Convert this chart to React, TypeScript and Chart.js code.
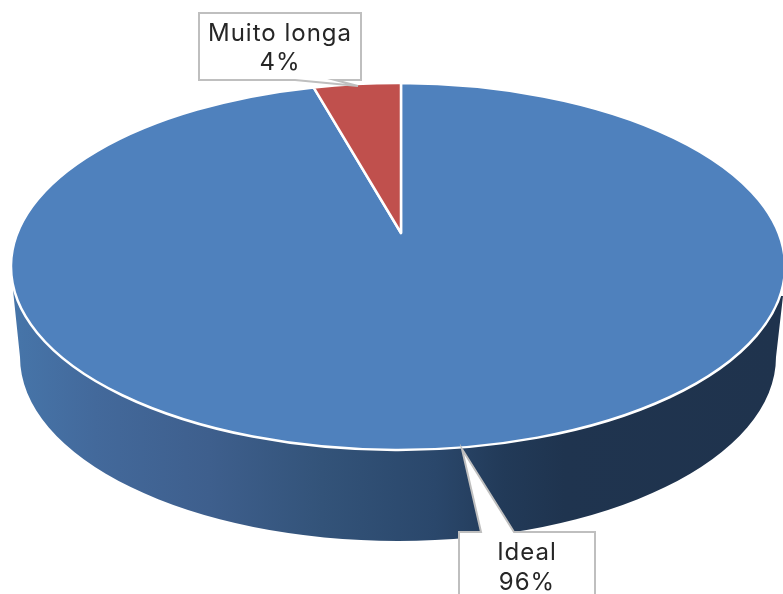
import React, { useEffect, useRef } from "react";
import { Chart, registerables } from "chart.js";

Chart.register(...registerables);

const categories = ["Ideal", "Muito longa"];
const values = [96, 4];
const sliceColors = ["#4f81bd", "#c0504d"];

const TOP = { cx: 398, cy: 266.5, a: 387, b: 183.5 };
const BOTTOM = { cx: 398, cy: 357, a: 378, b: 184 };
const APEX = { x: 401, y: 233 };
const RIM_TILT = -0.1;
const RIM_TURN = 0.0077;

const wallStops: [number, string][] = [
  [0, "#4674a8"],
  [0.1, "#43699b"],
  [0.25, "#3e5f8d"],
  [0.4, "#335379"],
  [0.55, "#2a476b"],
  [0.64, "#223a58"],
  [0.72, "#1f344f"],
  [1, "#1f334d"],
];

const callouts = [
  {
    index: 1,
    center: 280,
    lines: [41, 70],
    outline: [[199, 13], [361, 13], [361, 80], [335, 80], [358, 86], [295, 80], [199, 80]],
  },
  {
    index: 0,
    center: 527,
    lines: [560, 590],
    outline: [[459, 532], [481, 532], [462, 449], [514, 532], [595, 532], [595, 600], [459, 600]],
  },
];

// Chart.js angle (0 = top of the pie once shifted) to the angle on the tilted rim
function rimAngle(chartAngle: number) {
  const t = chartAngle + Math.PI / 2;
  const X = Math.sin(t);
  const Y = -Math.cos(t);
  const d = 1 + RIM_TILT * Y;
  const x = (X * Math.sqrt(1 - RIM_TILT * RIM_TILT)) / d;
  const y = (Y + RIM_TILT) / d;
  return Math.atan2(x, -y) + RIM_TURN;
}

const pie3d = {
  id: "pie3d",
  beforeDatasetsDraw(chart: any) {
    const ctx: CanvasRenderingContext2D = chart.ctx;
    ctx.save();

    const grad = ctx.createLinearGradient(BOTTOM.cx - BOTTOM.a, 0, BOTTOM.cx + BOTTOM.a, 0);
    wallStops.forEach(([p, c]) => grad.addColorStop(p, c));
    ctx.beginPath();
    ctx.ellipse(BOTTOM.cx, BOTTOM.cy, BOTTOM.a, BOTTOM.b, 0, 0, Math.PI);
    ctx.lineTo(13, 290);
    ctx.lineTo(783, 296);
    ctx.closePath();
    ctx.fillStyle = grad;
    ctx.fill();

    const arcs = chart.getDatasetMeta(0).data;
    arcs.forEach((arc: any, i: number) => {
      const start = rimAngle(arc.startAngle) - Math.PI / 2;
      let end = rimAngle(arc.endAngle) - Math.PI / 2;
      if (end <= start) end += Math.PI * 2;
      ctx.beginPath();
      ctx.moveTo(APEX.x, APEX.y);
      ctx.ellipse(TOP.cx, TOP.cy, TOP.a, TOP.b, 0, start, end);
      ctx.closePath();
      ctx.fillStyle = sliceColors[i];
      ctx.fill();
      ctx.strokeStyle = "#ffffff";
      ctx.lineWidth = 2.5;
      ctx.lineJoin = "round";
      ctx.stroke();
    });

    ctx.restore();
    return false;
  },
  afterDraw(chart: any) {
    const ctx: CanvasRenderingContext2D = chart.ctx;
    const total = values.reduce((s, v) => s + v, 0);
    ctx.save();
    callouts.forEach((c) => {
      ctx.beginPath();
      c.outline.forEach(([x, y], i) => (i ? ctx.lineTo(x, y) : ctx.moveTo(x, y)));
      ctx.closePath();
      ctx.fillStyle = "#ffffff";
      ctx.fill();
      ctx.strokeStyle = "#bfbfbf";
      ctx.lineWidth = 2;
      ctx.lineJoin = "miter";
      ctx.stroke();

      ctx.fillStyle = "#262626";
      ctx.font = "24px Inter";
      (ctx as any).letterSpacing = "1px";
      ctx.textAlign = "center";
      ctx.textBaseline = "alphabetic";
      ctx.fillText(categories[c.index], c.center, c.lines[0]);
      ctx.fillText(`${Math.round((values[c.index] / total) * 100)}%`, c.center, c.lines[1]);
    });
    ctx.restore();
  },
};

export default function App() {
  const ref = useRef<HTMLCanvasElement>(null);
  useEffect(() => {
    document.body.style.margin = "0";
    document.body.style.background = "#ffffff";
    const chart = new Chart(ref.current!, {
      type: "pie",
      data: {
        labels: categories,
        datasets: [{ data: values, backgroundColor: sliceColors, borderColor: "#ffffff", borderWidth: 2 }],
      },
      options: {
        responsive: false,
        animation: false,
        plugins: { legend: { display: false }, tooltip: { enabled: false } },
      },
      plugins: [pie3d],
    } as any);
    return () => chart.destroy();
  }, []);
  return <canvas ref={ref} width={783} height={594} style={{ display: "block", width: 783, height: 594 }} />;
}
